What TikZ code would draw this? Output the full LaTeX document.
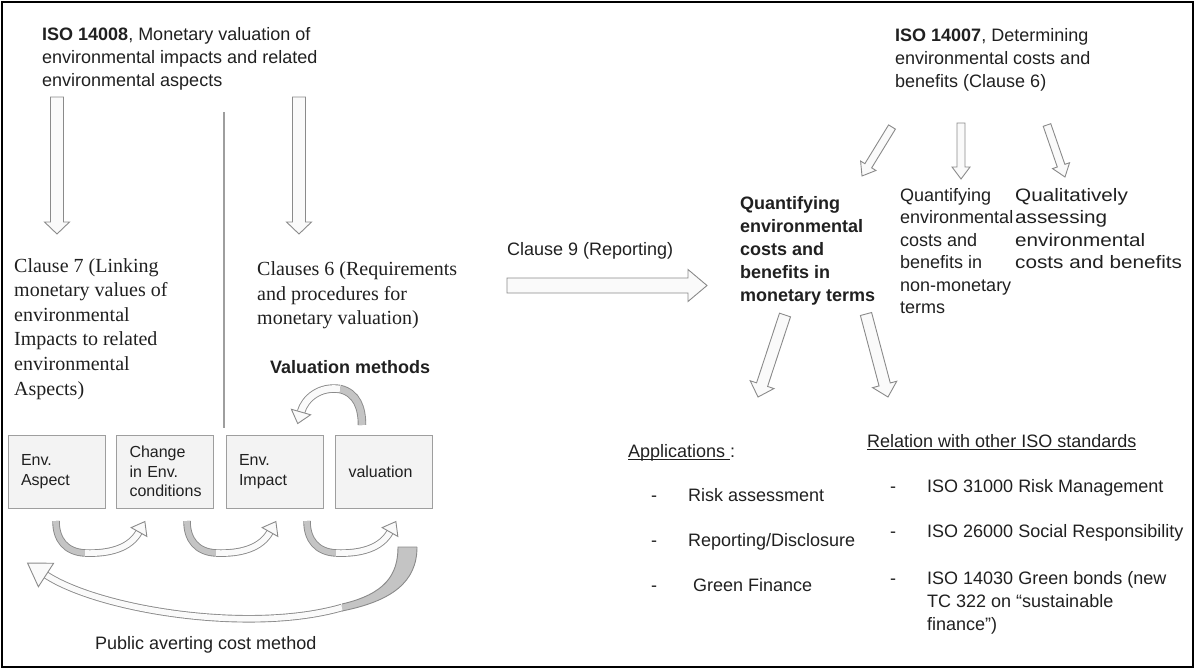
\documentclass[tikz,border=0pt]{standalone}
\usepackage{fontspec}
\setmainfont{Liberation Sans}
\newfontfamily\timesrm{Liberation Serif}
\newfontfamily\widesans[FakeStretch=1.15]{Liberation Sans}
\usetikzlibrary{calc}
\definecolor{ink}{HTML}{202020}
\definecolor{arrline}{HTML}{8A8A8A}
\definecolor{arrfill}{HTML}{FAFAFA}
\definecolor{tailgray}{HTML}{C4C4C4}
\definecolor{boxline}{HTML}{9E9E9E}
\definecolor{boxfill}{HTML}{F3F3F3}
\newcommand{\ulx}[1]{\setbox0\hbox{#1}\rlap{\rule[-2.6pt]{\wd0}{0.9pt}}\box0}
\begin{document}
\begin{tikzpicture}[x=1pt, y=-1pt,
        lbl/.style={
            font=\fontsize{18}{23}\selectfont, text=ink, inner sep=0pt, align=left, anchor=north west
        },
        serifl/.style={lbl, font=\timesrm\fontsize{20}{24.6}\selectfont},
        item/.style={font=\fontsize{18}{23}\selectfont, text=ink, inner sep=0pt, anchor=base west},
        envbox/.style={
            draw=boxline, fill=boxfill, line width=1pt, minimum height=73pt, text width=71pt,
            inner xsep=13pt, inner ysep=0pt, align=left, text=ink, font=\fontsize{16}{19.5}\selectfont
        },
        blockarr/.style n args={3}{
            draw=arrline, fill=arrfill, line width=0.9pt, line join=miter,
            to path={($(\tikztotarget)!#3!(\tikztostart)$) coordinate (bneck)
                ($(\tikztostart)!#1!90:(\tikztotarget)$) -- ($(bneck)!#1!-90:(\tikztostart)$)
                -- ($(bneck)!#2!-90:(\tikztostart)$) -- (\tikztotarget)
                -- ($(bneck)!#2!90:(\tikztostart)$) -- ($(bneck)!#1!90:(\tikztostart)$)
                -- ($(\tikztostart)!#1!-90:(\tikztotarget)$) -- cycle}
        },
        arrhead/.style={
            draw=arrline, fill=arrfill, line width=0.9pt, line join=miter,
            to path={($(\tikztostart)!#1!90:(\tikztotarget)$) -- (\tikztotarget)
                -- ($(\tikztostart)!#1!-90:(\tikztotarget)$) -- cycle}
        },
        tailpart/.style 2 args={draw=tailgray, line width=#2, preaction={draw=arrline, line width=#1}},
        bandpart/.style 2 args={draw=arrfill, line width=#2, preaction={draw=arrline, line width=#1}}
    ]
    \useasboundingbox (0,0) rectangle (1195,670);
    \draw[line width=2pt] (2,2) rectangle (1193,667);

    % left half
    \node[lbl] (iso8) at (42,27) {\textbf{ISO 14008}, Monetary valuation of\\environmental impacts and related\\environmental aspects};
    \node[serifl] (clause7) at (14,258) {Clause 7 (Linking\\monetary values of\\environmental\\Impacts to related\\environmental\\Aspects)};
    \node[serifl] (clause6) at (257,261.5) {Clauses 6 (Requirements\\and procedures for\\monetary valuation)};
    \node[lbl, font=\bfseries\fontsize{18}{23}\selectfont] (valmeth) at (270,360) {Valuation methods};
    \node[envbox] (aspect) at (56.5,471.5) {Env.\\Aspect};
    \node[envbox] (change) at (165,471.5) {Change\\in Env.\\conditions};
    \node[envbox] (impact) at (274.5,471.5) {Env.\\Impact};
    \node[envbox] (valuation) at (384,471.5) {valuation};
    \node[item] (pacm) at (95,649) {Public averting cost method};

    \coordinate (septop) at (224,112);
    \coordinate (sepbot) at (224,428);
    \draw[draw=boxline, line width=1.2pt] (septop) -- (sepbot);

    \coordinate (a1s) at (57,97);
    \coordinate (a1e) at (57,234);
    \coordinate (a2s) at (299,97);
    \coordinate (a2e) at (299,234);
    \draw[blockarr={6.5pt}{12.5pt}{12pt}] (a1s) to (a1e);
    \draw[blockarr={6.5pt}{12.5pt}{12pt}] (a2s) to (a2e);

    % curved arrows under the boxes
    \coordinate (c1t) at (56,521);
    \coordinate (c1m) at (85,553);
    \coordinate (c1n) at (139,532);
    \coordinate (c1h) at ($(c1n)!-12pt!(130,548)$);
    \draw[tailpart={7.5pt}{5.7pt}] (c1t) .. controls (56,540) and (66,552) .. (c1m);
    \draw[bandpart={7.5pt}{5.7pt}] (c1m) .. controls (110,554) and (130,548) .. (c1n);
    \draw[arrhead=9pt] (c1n) to (c1h);

    \coordinate (c2t) at (187,521);
    \coordinate (c2m) at (216,553);
    \coordinate (c2n) at (270,532);
    \coordinate (c2h) at ($(c2n)!-12pt!(261,548)$);
    \draw[tailpart={7.5pt}{5.7pt}] (c2t) .. controls (187,540) and (197,552) .. (c2m);
    \draw[bandpart={7.5pt}{5.7pt}] (c2m) .. controls (241,554) and (261,548) .. (c2n);
    \draw[arrhead=9pt] (c2n) to (c2h);

    \coordinate (c3t) at (307,521);
    \coordinate (c3m) at (336,553);
    \coordinate (c3n) at (390,532);
    \coordinate (c3h) at ($(c3n)!-12pt!(381,548)$);
    \draw[tailpart={7.5pt}{5.7pt}] (c3t) .. controls (307,540) and (317,552) .. (c3m);
    \draw[bandpart={7.5pt}{5.7pt}] (c3m) .. controls (361,554) and (381,548) .. (c3n);
    \draw[arrhead=9pt] (c3n) to (c3h);

    \coordinate (vt) at (362,425);
    \coordinate (vm) at (340,389);
    \coordinate (vn) at (301,412);
    \coordinate (vh) at ($(vn)!-12pt!(305,398)$);
    \draw[tailpart={8.5pt}{6.7pt}] (vt) .. controls (362,408) and (357,393) .. (vm);
    \draw[bandpart={8.5pt}{6.7pt}] (vm) .. controls (320,386) and (305,398) .. (vn);
    \draw[arrhead=10pt] (vn) to (vh);

    \coordinate (bt) at (407.5,547);
    \coordinate (bm) at (342,607.5);
    \coordinate (bn) at (46,575);
    \coordinate (bh) at ($(bn)!-22pt!(100,610)$);
    \fill[tailgray] ($(bt)+(-9.5,0)$) -- ($(bt)+(9.5,0)$) .. controls (417,582) and (392,601) .. ($(bm)+(0,3.5)$)
        -- ($(bm)+(0,-3.5)$) .. controls (385,594) and (398,575) .. ($(bt)+(-9.5,0)$) -- cycle;
    \draw[arrline, line width=0.9pt] ($(bt)+(9.5,0)$) .. controls (417,582) and (392,601) .. ($(bm)+(0,3.5)$);
    \draw[arrline, line width=0.9pt] ($(bm)+(0,-3.5)$) .. controls (385,594) and (398,575) .. ($(bt)+(-9.5,0)$) -- ($(bt)+(9.5,0)$);
    \draw[bandpart={7.5pt}{5.7pt}] (bm) .. controls (250,634) and (100,610) .. (bn);
    \draw[arrhead=14pt] (bn) to (bh);

    % right half
    \node[item] (clause9) at (507,255) {Clause 9 (Reporting)};
    \coordinate (r9s) at (507,285.5);
    \coordinate (r9e) at (707,285.5);
    \draw[blockarr={7.5pt}{16pt}{19pt}] (r9s) to (r9e);

    \node[lbl] (iso7) at (895,28.5) {\textbf{ISO 14007}, Determining\\environmental costs and\\benefits (Clause 6)};
    \node[lbl, font=\bfseries\fontsize{18}{23}\selectfont] (qmon) at (740,196) {Quantifying\\environmental\\costs and\\benefits in\\monetary terms};
    \node[lbl, font=\fontsize{18}{22.5}\selectfont] (qnon) at (900,188) {Quantifying\\environmental\\costs and\\benefits in\\non-monetary\\terms};
    \node[lbl, font=\widesans\fontsize{18}{22.5}\selectfont] (qual) at (1015,188) {Qualitatively\\assessing\\environmental\\costs and benefits};

    \coordinate (d1s) at (892,127);
    \coordinate (d1e) at (862,176);
    \coordinate (d2s) at (961,123);
    \coordinate (d2e) at (961,179);
    \coordinate (d3s) at (1047,125);
    \coordinate (d3e) at (1065,177);
    \draw[blockarr={4pt}{9pt}{12pt}] (d1s) to (d1e);
    \draw[blockarr={4pt}{9pt}{12pt}] (d2s) to (d2e);
    \draw[blockarr={4pt}{9pt}{12pt}] (d3s) to (d3e);

    \coordinate (q1s) at (785,315);
    \coordinate (q1e) at (758,397);
    \coordinate (q2s) at (866,314);
    \coordinate (q2e) at (888,397);
    \draw[blockarr={5.8pt}{12.5pt}{13pt}] (q1s) to (q1e);
    \draw[blockarr={5.8pt}{12.5pt}{13pt}] (q2s) to (q2e);

    \node[item] (apps) at (628,457) {\ulx{Applications }:};
    \node[item] (dl1) at (651,501) {-};
    \node[item] (dl2) at (651,546) {-};
    \node[item] (dl3) at (651,591) {-};
    \node[item] (risk) at (688,501) {Risk assessment};
    \node[item] (disc) at (688,546) {Reporting/Disclosure};
    \node[item] (green) at (693,591) {Green Finance};

    \node[item] (rel) at (867,447) {\ulx{Relation with other ISO standards}};
    \node[item] (dr1) at (890,492.5) {-};
    \node[item] (dr2) at (890,537) {-};
    \node[item] (dr3) at (890,584) {-};
    \node[item] (iso31) at (927,492.5) {ISO 31000 Risk Management};
    \node[item] (iso26) at (927,537) {ISO 26000 Social Responsibility};
    \node[lbl] (iso14) at (927,571) {ISO 14030 Green bonds (new\\TC 322 on “sustainable\\finance”)};
\end{tikzpicture}
\end{document}
